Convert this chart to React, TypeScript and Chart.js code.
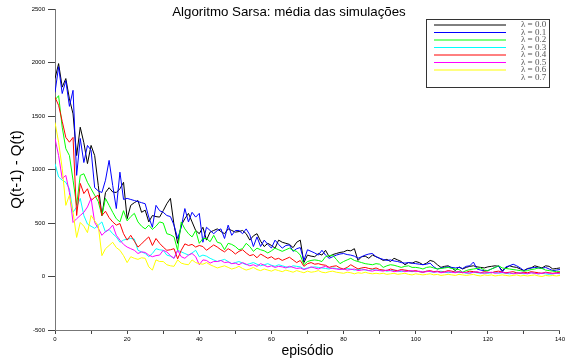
import React, { useEffect, useRef } from 'react';
import { Chart, registerables } from 'chart.js';

Chart.register(...registerables);

const titleText = 'Algoritmo Sarsa: média das simulações';
const xTitle = 'episódio';
const yTitle = 'Q(t-1) - Q(t)';

const episodes: number[] = Array.from({ length: 141 }, (_, i) => i);
const xTickValues = [0, 10, 20, 30, 40, 50, 60, 70, 80, 90, 100, 110, 120, 130, 140];
const xTickLabels = [0, 20, 40, 60, 80, 100, 120, 140];
const yTickValues = [-500, 0, 500, 1000, 1500, 2000, 2500];

const lambdaLabels = ['λ = 0.0', 'λ = 0.1', 'λ = 0.2', 'λ = 0.3', 'λ = 0.4', 'λ = 0.5', 'λ = 0.6', 'λ = 0.7'];
const seriesColors = ['#000000', '#0000ff', '#00ff00', '#00ffff', '#ff0000', '#ff00ff', '#ffff00', '#ffffff'];

const lambda00 = [
  1850, 1990, 1770, 1850, 1660, 1520, 1130, 1395, 1250, 1055,
  1225, 1130, 850, 570, 785, 830, 790, 785, 820, 880,
  540, 665, 690, 710, 600, 620, 510, 570, 560, 555,
  615, 680, 730, 480, 310, 480, 540, 590, 510, 430,
  400, 460, 340, 415, 430, 445, 420, 400, 445, 430,
  415, 420, 430, 400, 340, 380, 400, 330, 280, 310,
  290, 265, 340, 320, 310, 300, 270, 320, 340, 130,
  200, 190, 185, 215, 200, 245, 185, 205, 215, 225,
  230, 245, 240, 260, 150, 185, 190, 170, 200, 185,
  170, 150, 160, 140, 170, 155, 140, 110, 130, 125,
  140, 130, 110, 125, 150, 140, 110, 85, 95, 100,
  80, 55, 90, 70, 85, 95, 100, 90, 85, 80,
  90, 95, 100, 95, 55, 80, 100, 90, 85, 70,
  55, 75, 80, 100, 90, 80, 100, 95, 70, 75,
  80,
];
const lambda01 = [
  1720, 1960, 1710, 1830, 1590, 1740, 945, 1290, 1065, 1225,
  1180, 830, 800, 785, 900, 1085, 850, 635, 975, 720,
  730, 720, 710, 700, 690, 680, 555, 460, 665, 615,
  600, 570, 560, 480, 355, 460, 635, 510, 600, 555,
  590, 320, 460, 430, 400, 430, 445, 355, 480, 385,
  430, 430, 400, 445, 390, 280, 370, 280, 340, 300,
  265, 340, 300, 265, 290, 295, 235, 260, 270, 150,
  250, 235, 220, 200, 245, 200, 170, 185, 200, 210,
  215, 205, 200, 190, 170, 185, 200, 210, 215, 185,
  170, 160, 150, 155, 145, 140, 130, 125, 130, 125,
  120, 115, 110, 115, 125, 90, 70, 80, 85, 90,
  85, 80, 85, 75, 95, 100, 135, 70, 60, 55,
  55, 70, 85, 100, 40, 90, 100, 115, 100, 80,
  55, 70, 80, 85, 80, 75, 85, 70, 55, 60,
  65,
];
const lambda02 = [
  1650, 1690, 1395, 1195, 1130, 900, 665, 945, 960, 880,
  820, 760, 700, 570, 730, 665, 600, 540, 510, 615,
  520, 560, 590, 510, 470, 445, 480, 440, 470, 510,
  500, 400, 390, 370, 245, 510, 445, 400, 370, 430,
  310, 355, 355, 325, 385, 320, 310, 250, 310, 300,
  280, 250, 260, 310, 280, 235, 265, 250, 240, 220,
  240, 265, 250, 235, 250, 265, 245, 235, 200, 110,
  140, 150, 155, 150, 140, 185, 195, 200, 160, 120,
  140, 155, 170, 150, 140, 130, 120, 115, 110, 120,
  115, 85, 100, 110, 105, 95, 85, 95, 100, 85,
  85, 80, 70, 85, 90, 80, 70, 75, 80, 85,
  75, 70, 65, 40, 55, 65, 70, 75, 80, 60,
  55, 70, 85, 100, 80, 75, 70, 65, 60, 55,
  50, 55, 65, 70, 80, 75, 60, 55, 50, 45,
  45,
];
const lambda03 = [
  1055, 930, 900, 880, 820, 600, 650, 730, 570, 490,
  470, 450, 480, 510, 415, 440, 400, 370, 320, 340,
  350, 355, 350, 245, 230, 215, 185, 215, 260, 250,
  245, 200, 190, 170, 245, 230, 215, 200, 220, 245,
  185, 200, 190, 170, 155, 140, 150, 160, 140, 120,
  130, 140, 125, 110, 120, 130, 115, 100, 110, 120,
  105, 95, 110, 100, 90, 85, 100, 95, 90, 70,
  80, 85, 90, 85, 80, 75, 70, 80, 75, 70,
  65, 75, 70, 60, 65, 70, 60, 55, 65, 60,
  55, 60, 50, 55, 60, 50, 45, 55, 50, 45,
  50, 45, 40, 50, 45, 40, 45, 50, 40, 35,
  40, 45, 35, 40, 30, 35, 40, 35, 30, 35,
  30, 35, 40, 30, 35, 30, 25, 30, 35, 30,
  25, 30, 35, 30, 25, 30, 25, 20, 25, 30,
  25,
];
const lambda04 = [
  1675, 1600, 1450, 1300, 1255, 1300, 570, 870, 775, 820,
  710, 740, 760, 570, 610, 550, 510, 480, 495, 400,
  340, 385, 330, 275, 305, 340, 370, 290, 355, 310,
  275, 245, 250, 260, 165, 245, 305, 290, 300, 275,
  290, 280, 245, 270, 295, 275, 250, 230, 260, 240,
  210, 235, 250, 220, 195, 205, 175, 210, 190, 170,
  185, 160, 170, 150, 165, 180, 155, 130, 150, 95,
  120, 130, 115, 120, 110, 105, 85, 95, 100, 80,
  70, 85, 110, 90, 70, 80, 85, 75, 70, 80,
  65, 60, 55, 70, 60, 55, 65, 60, 55, 50,
  55, 45, 40, 50, 55, 45, 50, 40, 45, 55,
  50, 40, 45, 35, 40, 50, 45, 40, 35, 45,
  40, 35, 45, 50, 40, 35, 40, 45, 35, 30,
  40, 35, 45, 40, 35, 30, 40, 35, 30, 35,
  40,
];
const lambda05 = [
  1290, 1130, 915, 945, 785, 505, 540, 570, 600, 650,
  730, 505, 450, 385, 420, 440, 480, 385, 340, 300,
  275, 260, 245, 215, 230, 225, 200, 185, 195, 200,
  245, 230, 195, 170, 245, 185, 170, 200, 215, 185,
  110, 155, 150, 125, 140, 140, 150, 130, 135, 120,
  125, 110, 130, 115, 100, 110, 95, 120, 105, 90,
  100, 85, 95, 90, 80, 95, 85, 75, 80, 65,
  75, 90, 80, 70, 85, 95, 80, 75, 70, 65,
  70, 60, 65, 70, 55, 60, 65, 55, 50, 60,
  55, 50, 60, 55, 45, 50, 55, 45, 50, 55,
  45, 50, 40, 45, 50, 40, 45, 35, 40, 45,
  40, 35, 45, 40, 35, 30, 40, 45, 35, 30,
  35, 40, 30, 35, 40, 30, 35, 25, 30, 35,
  30, 25, 35, 30, 25, 30, 35, 30, 25, 30,
  30,
];
const lambda06 = [
  1440, 1255, 1010, 665, 760, 600, 365, 505, 470, 410,
  570, 520, 475, 195, 260, 290, 320, 270, 245, 195,
  130, 185, 170, 160, 175, 170, 90, 60, 155, 140,
  140, 110, 100, 95, 155, 125, 115, 110, 155, 130,
  120, 115, 130, 110, 95, 80, 90, 100, 85, 70,
  80, 95, 75, 60, 70, 85, 65, 55, 70, 60,
  50, 65, 55, 45, 60, 50, 40, 55, 45, 35,
  50, 40, 45, 55, 40, 35, 45, 50, 40, 35,
  30, 40, 35, 25, 35, 30, 40, 30, 25, 30,
  25, 30, 20, 25, 30, 20, 25, 30, 20, 15,
  25, 20, 15, 20, 25, 15, 20, 10, 15, 20,
  15, 10, 20, 15, 10, 15, 20, 10, 5, 15,
  10, 15, 5, 10, 15, 10, 5, 10, 15, 5,
  10, 5, 10, 15, 5, 0, 10, 5, 10, 5,
  10,
];
const lambda07: number[] = [];

const seriesValues = [lambda00, lambda01, lambda02, lambda03, lambda04, lambda05, lambda06, lambda07];

const overlayPlugin = {
  id: 'overlay',
  afterDraw(chart: any) {
    const ctx = chart.ctx;
    ctx.save();
    // title
    ctx.fillStyle = '#000';
    ctx.font = '13.3px "Liberation Sans", Arial, sans-serif';
    ctx.textAlign = 'center';
    ctx.textBaseline = 'middle';
    ctx.fillText(titleText, 289, 12);

    // legend box
    const bx = 426, by = 19, bw = 123, bh = 68;
    ctx.fillStyle = '#ffffff';
    ctx.fillRect(bx, by, bw, bh);
    ctx.strokeStyle = '#333';
    ctx.lineWidth = 1;
    ctx.strokeRect(bx + 0.5, by + 0.5, bw, bh);
    const ds = chart.data.datasets;
    ctx.font = '9px "Liberation Serif", "DejaVu Serif", serif';
    ctx.textAlign = 'left';
    ctx.textBaseline = 'middle';
    for (let i = 0; i < ds.length; i++) {
      const y = 25 + i * 7.5;
      ctx.strokeStyle = ds[i].borderColor;
      ctx.beginPath();
      ctx.moveTo(434, y);
      ctx.lineTo(506, y);
      ctx.stroke();
      ctx.fillStyle = '#555';
      ctx.fillText(ds[i].label, 521, y);
    }
    ctx.restore();
  },
};

export default function App() {
  const canvasRef = useRef<HTMLCanvasElement | null>(null);

  useEffect(() => {
    const canvas = canvasRef.current;
    if (!canvas) return;
    const datasets = seriesValues.map((vals, i) => ({
      label: lambdaLabels[i],
      data: vals.map((v, j) => ({ x: episodes[j], y: v })),
      borderColor: seriesColors[i],
      backgroundColor: seriesColors[i],
      borderWidth: 1,
      pointRadius: 0,
      tension: 0,
      fill: false,
      order: seriesValues.length - i,
    }));
    const chart = new Chart(canvas, {
      type: 'line',
      data: { datasets },
      options: {
        responsive: false,
        animation: false,
        layout: { padding: { left: 0, top: 9, right: 6, bottom: 0 } },
        plugins: {
          legend: { display: false },
          tooltip: { enabled: false },
          title: { display: false },
        },
        scales: {
          x: {
            type: 'linear',
            min: 0,
            max: 140,
            afterFit: (s: any) => { s.height = 33; },
            afterBuildTicks: (s: any) => { s.ticks = xTickValues.map((v) => ({ value: v })); },
            ticks: {
              autoSkip: false,
              maxRotation: 0,
              padding: 2,
              color: '#000',
              font: { size: 6, family: '"Liberation Sans", Arial, sans-serif' },
              callback: (v: any) => (xTickLabels.includes(Number(v)) ? String(v) : ''),
            },
            grid: { drawOnChartArea: false, drawTicks: true, tickLength: 4, color: '#444' },
            border: { color: '#777', width: 1 },
            title: {
              display: true,
              text: xTitle,
              color: '#000',
              font: { size: 14, family: '"Liberation Sans", Arial, sans-serif' },
              padding: { top: 0, bottom: 3 },
            },
          },
          y: {
            type: 'linear',
            min: -500,
            max: 2500,
            afterFit: (s: any) => { s.width = 55; },
            afterBuildTicks: (s: any) => { s.ticks = yTickValues.map((v) => ({ value: v })); },
            ticks: {
              padding: 3,
              color: '#000',
              font: { size: 6, family: '"Liberation Sans", Arial, sans-serif' },
              callback: (v: any) => String(v),
            },
            grid: { drawOnChartArea: false, drawTicks: true, tickLength: 7, color: '#444' },
            border: { color: '#777', width: 1 },
            title: {
              display: true,
              text: yTitle,
              color: '#000',
              font: { size: 15, family: '"Liberation Sans", Arial, sans-serif' },
              padding: { top: 8, bottom: 0 },
            },
          },
        },
      },
      plugins: [overlayPlugin],
    });
    return () => chart.destroy();
  }, []);

  return (
    <div style={{ position: 'fixed', left: 0, top: 0, width: 567, height: 363, background: '#fff' }}>
      <canvas ref={canvasRef} width={567} height={363} style={{ width: 567, height: 363, display: 'block' }} />
    </div>
  );
}
